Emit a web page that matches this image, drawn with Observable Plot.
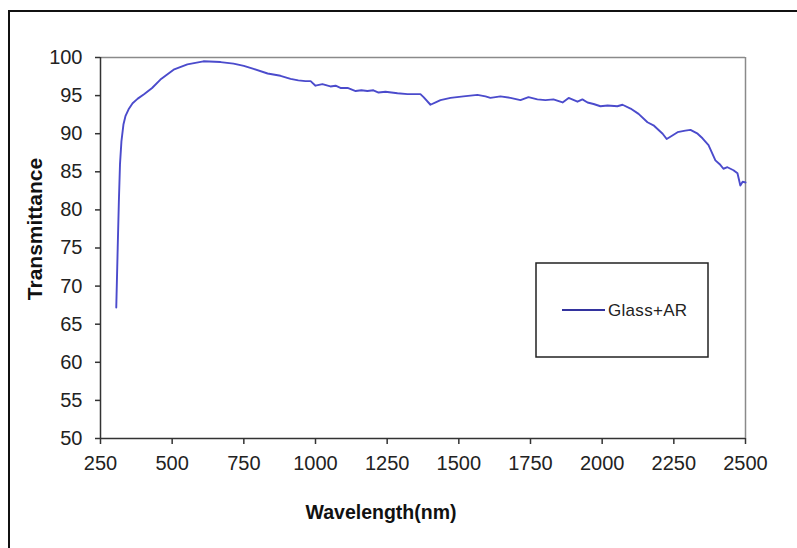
<!DOCTYPE html>
<html><head><meta charset="utf-8">
<script src="https://cdn.jsdelivr.net/npm/d3@7"></script>
<script src="https://cdn.jsdelivr.net/npm/@observablehq/plot@0.6"></script>
<style>
body{margin:0;background:#fff;overflow:hidden}
#chart{position:relative;width:797px;height:548px}
</style>
</head><body><div id="chart"></div>
<script>
const wavelength = [305,310,314,318,323,330,337,348,362,380,403,430,459,505,553,609,669,714,750,784,833,878,913,940,965,983,1000,1024,1052,1070,1087,1112,1140,1160,1181,1202,1220,1244,1265,1286,1321,1366,1377,1401,1419,1436,1471,1516,1565,1593,1610,1628,1645,1680,1715,1743,1774,1802,1830,1862,1883,1914,1931,1949,1970,1994,2019,2053,2071,2099,2127,2158,2179,2211,2225,2238,2263,2290,2308,2333,2350,2371,2395,2410,2423,2437,2458,2472,2482,2490,2500];
const transmittance = [67.2,75,81,86,89,91.2,92.3,93.2,94.0,94.6,95.2,96.0,97.1,98.4,99.1,99.5,99.4,99.2,98.9,98.5,97.9,97.6,97.2,97.0,96.9,96.9,96.3,96.5,96.2,96.3,96.0,96.0,95.6,95.7,95.6,95.7,95.4,95.5,95.4,95.3,95.2,95.2,94.8,93.8,94.1,94.4,94.7,94.9,95.1,94.9,94.7,94.8,94.9,94.7,94.4,94.8,94.5,94.4,94.5,94.1,94.7,94.2,94.5,94.1,93.9,93.6,93.7,93.6,93.8,93.3,92.6,91.5,91.1,90.0,89.3,89.6,90.2,90.4,90.5,90.0,89.4,88.5,86.5,86.0,85.4,85.6,85.2,84.8,83.2,83.7,83.6];
const xTicks = [250,500,750,1000,1250,1500,1750,2000,2250,2500];
const yTicks = [50,55,60,65,70,75,80,85,90,95,100];
const seriesNames = ["Glass+AR"];
const xLabel = "Wavelength(nm)";
const yLabel = "Transmittance";

const data = wavelength.map((w, i) => ({w, t: transmittance[i]}));
const lineColor = "#4b4bcc";

const plot = Plot.plot({
  width: 797, height: 548,
  marginLeft: 100, marginRight: 52, marginTop: 57, marginBottom: 110,
  style: {fontFamily: "'Liberation Sans', Arial, sans-serif", fontSize: "20px", color: "#222", background: "#fff"},
  x: {domain: [250, 2500]},
  y: {domain: [50, 100]},
  marks: [
    Plot.ruleY([100], {stroke: "#8a8a8a", strokeWidth: 1.5}),
    Plot.ruleX([2500], {stroke: "#8a8a8a", strokeWidth: 1.5}),
    Plot.line(data, {x: "w", y: "t", stroke: lineColor, strokeWidth: 1.9}),
    Plot.ruleX([250], {stroke: "#333", strokeWidth: 1.5}),
    Plot.ruleY([50], {stroke: "#333", strokeWidth: 1.5}),
    Plot.axisX({ticks: xTicks, tickSize: 6, tickPadding: 11, tickFormat: d => String(d), label: null, stroke: "#333", strokeWidth: 1.5}),
    Plot.axisY({ticks: yTicks, tickSize: 5, tickPadding: 13, tickFormat: d => String(d), label: null, stroke: "#333", strokeWidth: 1.5})
  ]
});

document.getElementById("chart").appendChild(plot);
const svg = d3.select(plot);

// outer chart border (left and top visible)
svg.append("rect").attr("x", 9).attr("y", 11).attr("width", 900).attr("height", 900)
  .attr("fill", "none").attr("stroke", "#111").attr("stroke-width", 2);

// axis titles
svg.append("text").text(xLabel)
  .attr("x", 381).attr("y", 519).attr("text-anchor", "middle")
  .attr("font-weight", "bold").attr("font-size", 19.5).attr("fill", "#111");
svg.append("text").text(yLabel)
  .attr("transform", "translate(42,229) rotate(-90)").attr("text-anchor", "middle")
  .attr("font-weight", "bold").attr("font-size", 21).attr("fill", "#111");

// legend
const lg = svg.append("g");
lg.append("rect").attr("x", 536).attr("y", 263).attr("width", 172).attr("height", 94)
  .attr("fill", "#fff").attr("stroke", "#222").attr("stroke-width", 1.5);
seriesNames.forEach((name, i) => {
  lg.append("line").attr("x1", 562).attr("x2", 605).attr("y1", 310 + i * 24).attr("y2", 310 + i * 24)
    .attr("stroke", "#33339e").attr("stroke-width", 1.8);
  lg.append("text").text(name).attr("x", 608).attr("y", 316 + i * 24)
    .attr("text-anchor", "start")
    .attr("font-size", 17).attr("fill", "#222").attr("letter-spacing", 0.3);
});
</script>
</body></html>
